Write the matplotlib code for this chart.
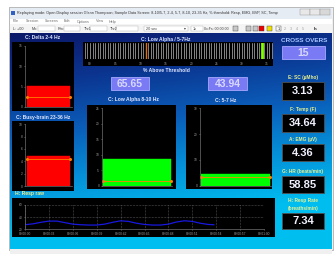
import numpy as np
import matplotlib
matplotlib.use('Agg')
import matplotlib.pyplot as plt
from matplotlib.patches import Rectangle
from matplotlib.colors import LinearSegmentedColormap

W, H = 336, 254

# ---- data ----
delta_val, delta_thr = 5.2, 2.4
busy_val, busy_thr = 4.9, 4.3
alpha810_val, alpha810_thr = 8.5, 1.5
theta57_val, theta57_thr = 4.5, 3.3
ratio_now, ratio_thr = 34.0, 11.0
ratio_ticks = [0, 5, 10, 15, 20, 25, 30, 35]
pct_above = ['65.65', '43.94']
cross_overs = '15'
side_labels = ['E: SC (µMho)', 'F: Temp (F)', 'A: EMG (µV)', 'G: HR (beats/min)',
               'H: Resp Rate\n(breaths/min)']
side_values = ['3.13', '34.64', '4.36', '58.85', '7.34']
resp_t = [30, 31, 32, 33, 34, 35, 36, 37, 38, 39, 40, 41, 42, 43, 44, 45, 46,
          47, 48, 49, 50, 51, 52, 53, 53.7]
resp_v = [27.5, 29, 31.5, 33.5, 33.5, 31, 28.5, 27.5, 27, 27, 28.5, 31.5, 34,
          33, 30, 28, 27, 27, 28.5, 32, 34, 33, 30, 28, 27.5]
resp_xticks = [30, 33, 36, 39, 42, 45, 48, 51, 54, 57, 60]
menu_items = ['File', 'Session', 'Screens', 'Edit', 'Options', 'View', 'Help']
title_text = ('Replaying mode: Open Display session Glenn Thompson; Sample Data Screen: '
              '8-10/5-7, 2-4, 5-7, 8-10, 23-35 Hz, % threshold: Resp, EMG, BVP, SC, Temp')

plt.rcParams['font.family'] = ['Liberation Sans', 'DejaVu Sans']

fig = plt.figure(figsize=(W / 100, H / 100), dpi=100)
fig.patch.set_facecolor('white')

bg = fig.add_axes([0, 0, 1, 1])
bg.set_xlim(0, W)
bg.set_ylim(H, 0)
bg.axis('off')


def px_axes(x0, y0, x1, y1):
    a = fig.add_axes([x0 / W, 1 - y1 / H, (x1 - x0) / W, (y1 - y0) / H])
    a.set_facecolor('none')
    return a


def rect(x0, y0, x1, y1, fc, ec='none', lw=0.5, z=1):
    bg.add_patch(Rectangle((x0, y0), x1 - x0, y1 - y0, fc=fc, ec=ec, lw=lw, zorder=z))


# window chrome
rect(9, 7, 333, 250, '#f0f0f0', ec='#a0a0a0', z=0)
rect(10, 8, 332, 19, '#e6ecf4')
bg.add_patch(Rectangle((11, 10.5), 4, 4, fc='#3060c0', zorder=2))
bg.text(17, 13, title_text, fontsize=2.7, color='#303030', va='center')
for x0, c in [(300, '#e8e8e8'), (310, '#e8e8e8'), (320, '#d8d8d8')]:
    rect(x0, 9, x0 + 10, 15, c, ec='#909090', lw=0.3, z=2)
rect(10, 19, 332, 24, '#ffffff')
mx = 13
for m in menu_items:
    bg.text(mx, 21.5, m, fontsize=2.7, color='#707070', va='center')
    mx += len(m) * 2.0 + 5
rect(10, 24, 332, 33, '#f4f4f4')
bg.text(13, 28.5, 'L: +00', fontsize=2.7, color='#404040', va='center')
for lab, x0, x1 in [('Mn:', 32, 55), ('Rm:', 58, 80), ('Thr1', 84, 107), ('Thr2', 110, 138)]:
    bg.text(x0, 28.5, lab, fontsize=2.7, color='#404040', va='center')
    rect(x0 + 6, 26, x1, 31, 'white', ec='#b0b0b0', lw=0.3, z=2)
rect(144, 26, 188, 31, 'white', ec='#b0b0b0', lw=0.3, z=2)
bg.text(146, 28.5, '20 sec', fontsize=2.7, color='#404040', va='center')
bg.text(184, 28.5, '▾', fontsize=2.7, color='#404040', va='center')
rect(191, 26, 203, 31, 'white', ec='#b0b0b0', lw=0.3, z=2)
bg.text(193, 28.5, '1x', fontsize=2.7, color='#404040', va='center')
bg.text(204, 28.5, '0x:Fs: 00:00:00', fontsize=2.5, color='#404040', va='center')
for x0, c in [(233, '#c8c8c8'), (246, '#c8c8c8'), (253, '#c8c8c8'), (259, '#ee0000'), (267, '#f0e000')]:
    rect(x0, 26, x0 + 5, 31, c, ec='#404040', lw=0.3, z=2)
rect(276, 26, 281, 31, '#f8f8f8', ec='#404040', lw=0.3, z=2)
bg.text(278.5, 28.5, '1', fontsize=2.7, color='#202020', va='center', ha='center')
for i, n in enumerate(['2', '3', '4', '5']):
    bg.text(285 + i * 6, 28.5, n, fontsize=2.7, color='#a0a0a0', va='center', ha='center')
bg.text(314, 28.5, 'h.', fontsize=3.2, color='#202020', va='center', fontweight='bold')

# blue gradient background
yy, xx = np.mgrid[0:1:200j, 0:1:200j]
grad = np.clip(yy * 0.85 + xx * 0.15, 0, 1)
cmap = LinearSegmentedColormap.from_list('bg', ['#0c1868', '#0b3590', '#0a5cb8', '#0590d8', '#00bdef', '#00c0f0'],)
bg.imshow(grad, extent=(10, 332, 249, 33), cmap=cmap, aspect='auto', zorder=0.5, interpolation='bilinear')
rect(10, 249, 332, 254, '#f0f0f0', z=1)

title_kw = dict(fontsize=3.6, color='#dfe6ff', fontweight='bold', ha='center', va='center', zorder=3)
yel_kw = dict(fontsize=3.6, color='#e8f090', fontweight='bold', ha='center', va='center', zorder=3)
tick_col = '#a0a0a0'


def style_axis(a):
    for s in ['top', 'right']:
        a.spines[s].set_visible(False)
    for s in ['left', 'bottom']:
        a.spines[s].set_color('#707070')
        a.spines[s].set_linewidth(0.5)
    a.tick_params(colors=tick_col, labelsize=2.3, length=1, width=0.4, pad=0.8)


def bar_panel(box, ax_box, val, thr, ymax, yticks, color, bar_x):
    rect(*box, '#000000', z=2)
    a = px_axes(*ax_box)
    a.bar([bar_x[0]], [val], width=bar_x[1] - bar_x[0], align='edge', color=color,
          edgecolor=color, lw=0.3)
    a.plot(bar_x, [thr, thr], color='#ff8000', lw=0.6, marker='o', ms=1.2)
    a.set_xlim(0, 1)
    a.set_ylim(0, ymax)
    a.set_yticks(yticks)
    a.set_xticks([])
    style_axis(a)
    return a


# C: Delta 2-4 Hz
bg.text(43, 37.5, 'C: Delta 2-4 Hz', **title_kw)
bar_panel((12, 42, 74, 111), (25, 45.7, 72, 107), delta_val, delta_thr, 15,
          [0, 5, 10, 15], '#ff0000', (0.04, 0.96))

# C: Busy-brain 23-36 Hz
bg.text(43, 117, 'C: Busy-brain 23-36 Hz', **title_kw)
bar_panel((12, 121, 74, 191), (25, 124.3, 72, 186), busy_val, busy_thr, 10,
          [0, 2, 4, 6, 8, 10], '#ff0000', (0.04, 0.96))

# C: Low Alpha 8-10 Hz
bg.text(133, 100, 'C: Low Alpha 8-10 Hz', **title_kw)
bar_panel((87, 105, 176, 189), (101.7, 108.3, 172, 185.7), alpha810_val, alpha810_thr, 25,
          [0, 5, 10, 15, 20, 25], '#00ff00', (0.02, 0.98))

# C: 5-7 Hz
bg.text(226, 100, 'C: 5-7 Hz', **title_kw)
bar_panel((186, 105, 272, 189), (200, 108.3, 271, 185.7), theta57_val, theta57_thr, 30,
          [0, 10, 20, 30], '#00ff00', (0.02, 0.98))

# C: Low Alpha / 5-7Hz ratio strip
bg.text(166, 39.5, 'C: Low Alpha / 5-7Hz', **title_kw)
rect(83, 42, 273, 66, '#000000', z=2)
sa = px_axes(83, 43, 273, 59)
sa.set_xlim(-1.38, 36.2)
sa.set_ylim(0, 1)
sa.set_xticks(ratio_ticks)
sa.set_xticklabels(['%02d' % t for t in ratio_ticks])
sa.set_xticks(np.arange(-1, 36.5, 0.5), minor=True)
sa.grid(True, which='minor', axis='x', color='#b8b8b8', lw=0.5)
sa.grid(True, which='major', axis='x', color='#b8b8b8', lw=0.5)
sa.axvline(ratio_thr, color='#e07010', lw=1.0)
sa.axvline(ratio_now, color='#80ff00', lw=2.0)
sa.set_yticks([])
for s in sa.spines.values():
    s.set_visible(False)
sa.tick_params(axis='x', which='both', length=0, colors=tick_col, labelsize=2.3, pad=2.5)
bg.text(166, 71, '% Above Threshold', **title_kw)

# value boxes for percent above threshold
for (x0, x1), v in zip([(111, 149), (208, 247)], pct_above):
    rect(x0, 77, x1, 90, '#7a7af5', ec='#a8a8ff', lw=0.6, z=2)
    bg.text((x0 + x1) / 2, 83.8, v, fontsize=7.5, color='#d8d8ff', fontweight='bold',
            ha='center', va='center', zorder=3)

# cross overs
bg.text(304, 41, 'CROSS OVERS', fontsize=4.6, color='#a8c4ff', fontweight='bold',
        ha='center', va='center', zorder=3)
rect(282, 46, 325, 58.5, '#7a7af5', ec='#a8a8ff', lw=0.6, z=2)
bg.text(303.5, 52.5, cross_overs, fontsize=7.5, color='#d8d8ff', fontweight='bold',
        ha='center', va='center', zorder=3)

# side value readouts
lab_y = [77.7, 110, 140, 171.7, 204.5]
box_y = [(82, 99.5), (114, 131.5), (144, 161), (176, 193), (212.5, 229)]
for lab, v, ly, (b0, b1) in zip(side_labels, side_values, lab_y, box_y):
    bg.text(303, ly, lab, fontsize=3.4, color='#e8f090', fontweight='bold',
            ha='center', va='center', zorder=3, linespacing=1.6)
    rect(282, b0, 324, b1, '#000000', ec='#505050', lw=0.6, z=2)
    bg.text(303, (b0 + b1) / 2 + 0.5, v, fontsize=8, color='#f0f0ff', fontweight='bold',
            ha='center', va='center', zorder=3)

# H: Resp raw
bg.text(15, 194, 'H: Resp raw', fontsize=3.6, color='#e8f090', fontweight='bold',
        ha='left', va='center', zorder=3)
rect(12, 198, 275, 237, '#000000', z=2)
ra = px_axes(25, 205, 264, 229.3)
ra.plot(resp_t, resp_v, color='#1818e0', lw=0.9)
ra.set_xlim(30, 60)
ra.set_ylim(20, 60)
ra.set_yticks([20, 40, 60])
ra.set_xticks(resp_xticks)
ra.set_xticklabels(['00:%02d:%02d' % (t // 60, t % 60) for t in resp_xticks])
ra.grid(True, color='#909090', lw=0.4, ls=':')
style_axis(ra)

fig.savefig('out.png', dpi=100, facecolor=fig.get_facecolor())
